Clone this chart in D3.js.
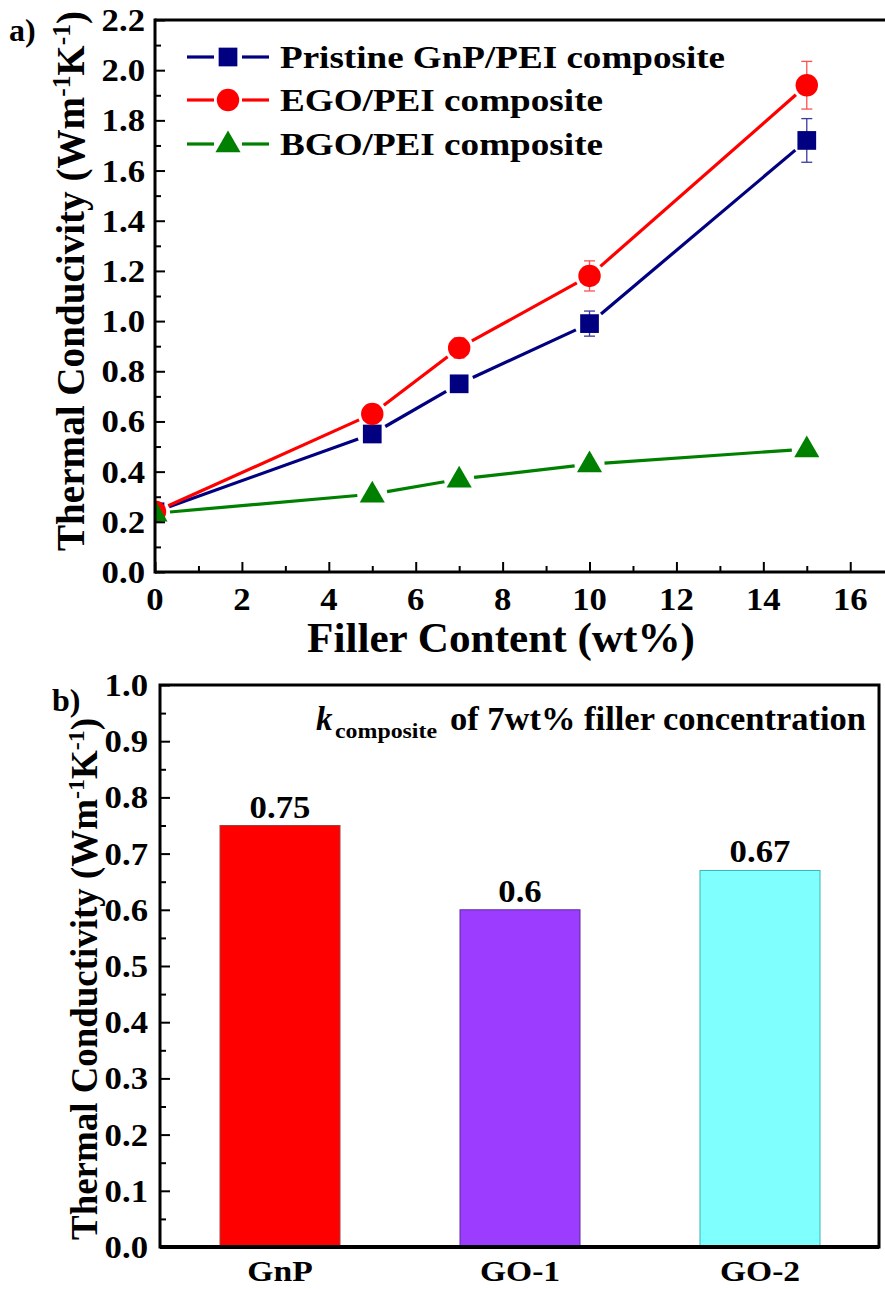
<!DOCTYPE html>
<html>
<head>
<meta charset="utf-8">
<script src="https://cdn.jsdelivr.net/npm/d3@7"></script>
<style>
  html, body { margin: 0; padding: 0; background: #fff; }
  svg { display: block; }
  text { font-family: "Liberation Serif", "Times New Roman", serif; font-weight: bold; fill: #000; }
</style>
</head>
<body>
<svg id="fig" width="885" height="1289"></svg>
<script>
// ---- Panel a: thermal conductivity vs filler content ----
const fillerContent = [0, 5, 7, 10, 15];
const gnpValues = [0.24, 0.55, 0.75, 0.99, 1.72];
const gnpErrors = [0.01, 0.015, 0.025, 0.05, 0.087];
const egoValues = [0.24, 0.63, 0.893, 1.18, 1.94];
const egoErrors = [0.01, 0.02, 0.04, 0.06, 0.095];
const bgoValues = [0.234, 0.31, 0.37, 0.43, 0.49];
const bgoErrors = [0, 0, 0, 0, 0];
const seriesNames = ["Pristine GnP/PEI composite", "EGO/PEI composite", "BGO/PEI composite"];
const xTicksA = [0, 2, 4, 6, 8, 10, 12, 14, 16];
const yTicksA = [0.0, 0.2, 0.4, 0.6, 0.8, 1.0, 1.2, 1.4, 1.6, 1.8, 2.0, 2.2];

// ---- Panel b: conductivity at 7 wt% filler ----
const fillers = ["GnP", "GO-1", "GO-2"];
const fillerK = [0.75, 0.6, 0.67];
const fillerLabels = ["0.75", "0.6", "0.67"];
const yTicksB = [0.0, 0.1, 0.2, 0.3, 0.4, 0.5, 0.6, 0.7, 0.8, 0.9, 1.0];

const svg = d3.select("#fig");
const WIDE = 1.12; // horizontal widening of the bold serif labels

// text placed at (x, y), widened horizontally around its anchor
function wideText(parent, x, y, str, size, anchor) {
  return parent.append("text")
    .attr("transform", `translate(${x},${y}) scale(${WIDE},1)`)
    .attr("text-anchor", anchor).attr("font-size", size).text(str);
}

// ================= Panel a =================
const A = { left: 155, right: 885, top: 20, bottom: 572 };
const xA = d3.scaleLinear().domain([0, 16.8]).range([A.left, A.right]);
const yA = d3.scaleLinear().domain([0, 2.2]).range([A.bottom, A.top]);

const defs = svg.append("defs");
defs.append("clipPath").attr("id", "clipA")
  .append("rect").attr("x", A.left).attr("y", 0)
  .attr("width", A.right - A.left).attr("height", A.bottom);

const series = [
  { name: seriesNames[0], vals: gnpValues, errs: gnpErrors, color: "#000080", errColor: "#3a3aa0", shape: "square", r: 12 },
  { name: seriesNames[1], vals: egoValues, errs: egoErrors, color: "#ff0000", errColor: "#ff5050", shape: "circle", r: 11.5 },
  { name: seriesNames[2], vals: bgoValues, errs: bgoErrors, color: "#008000", errColor: "#008000", shape: "triangle", r: 12 }
];

function markerPath(shape, r) {
  if (shape === "square") return d3.symbol(d3.symbolSquare, (2 * r * 0.78) ** 2)();
  if (shape === "circle") return d3.symbol(d3.symbolCircle, Math.PI * r * r * 0.95)();
  return d3.symbol(d3.symbolTriangle, r * r * 1.9)();
}

const plotA = svg.append("g").attr("clip-path", "url(#clipA)");

// connecting lines with small gaps around the markers
series.forEach(s => {
  const pts = fillerContent.map((x, i) => [xA(x), yA(s.vals[i])]);
  const gap = s.r + 3;
  for (let i = 0; i < pts.length - 1; i++) {
    const [x1, y1] = pts[i], [x2, y2] = pts[i + 1];
    const len = Math.hypot(x2 - x1, y2 - y1);
    const ux = (x2 - x1) / len, uy = (y2 - y1) / len;
    plotA.append("line")
      .attr("x1", x1 + ux * gap).attr("y1", y1 + uy * gap)
      .attr("x2", x2 - ux * gap).attr("y2", y2 - uy * gap)
      .attr("stroke", s.color).attr("stroke-width", 3.2);
  }
});

// error bars
series.forEach(s => {
  fillerContent.forEach((x, i) => {
    const e = s.errs[i];
    if (!e) return;
    const cx = xA(x), yt = yA(s.vals[i] + e), yb = yA(s.vals[i] - e);
    const g = plotA.append("g").attr("stroke", s.errColor).attr("stroke-width", 1.3);
    g.append("line").attr("x1", cx).attr("x2", cx).attr("y1", yt).attr("y2", yb);
    g.append("line").attr("x1", cx - 5.5).attr("x2", cx + 5.5).attr("y1", yt).attr("y2", yt);
    g.append("line").attr("x1", cx - 5.5).attr("x2", cx + 5.5).attr("y1", yb).attr("y2", yb);
  });
});

// markers
series.forEach(s => {
  plotA.selectAll(null).data(fillerContent).enter().append("path")
    .attr("d", markerPath(s.shape, s.r))
    .attr("transform", (d, i) => `translate(${xA(d)},${yA(s.vals[i]) + (s.shape === "triangle" ? 1 : 0)})`)
    .attr("fill", s.color);
});

// axes (inward ticks)
const axA = svg.append("g");
const xAxisA = d3.axisBottom(xA).tickValues(d3.range(0, 17, 1)).tickSize(-10).tickFormat("");
const gxA = axA.append("g").attr("transform", `translate(0,${A.bottom})`).call(xAxisA);
gxA.selectAll(".tick line").attr("y2", d => d % 2 === 0 ? -10 : -6).attr("stroke-width", 2);
gxA.select(".domain").remove();
xTicksA.forEach(d => wideText(axA, xA(d), A.bottom + 38, d, 31, "middle"));

const yAxisA = d3.axisLeft(yA).tickValues(d3.range(0, 2.21, 0.1)).tickSize(-10).tickFormat("");
const gyA = axA.append("g").attr("transform", `translate(${A.left},0)`).call(yAxisA);
gyA.selectAll(".tick line").attr("x2", (d, i) => i % 2 === 0 ? 10 : 6).attr("stroke-width", 2);
gyA.select(".domain").remove();
yTicksA.forEach(d => wideText(axA, A.left - 10, yA(d) + 11, d.toFixed(1), 31, "end"));

axA.append("line").attr("x1", A.left).attr("x2", A.right).attr("y1", A.bottom).attr("y2", A.bottom)
  .attr("stroke", "#000").attr("stroke-width", 3);
axA.append("line").attr("x1", A.left).attr("x2", A.right).attr("y1", A.top).attr("y2", A.top)
  .attr("stroke", "#000").attr("stroke-width", 3);
axA.append("line").attr("x1", A.left).attr("x2", A.left).attr("y1", A.top - 1.5).attr("y2", A.bottom + 1.5)
  .attr("stroke", "#000").attr("stroke-width", 3);

// axis titles
svg.append("text").attr("x", 501).attr("y", 652).attr("text-anchor", "middle")
  .attr("font-size", 42).attr("textLength", 388).attr("lengthAdjust", "spacingAndGlyphs")
  .text("Filler Content (wt%)");

function yTitle(x, yc, size, len, label) {
  const t = svg.append("text")
    .attr("transform", `translate(${x},${yc}) rotate(-90) scale(1,${WIDE})`)
    .attr("text-anchor", "middle").attr("font-size", size)
    .attr("textLength", len).attr("lengthAdjust", "spacingAndGlyphs");
  t.append("tspan").text(label + " (Wm");
  t.append("tspan").attr("baseline-shift", "super").attr("font-size", size * 0.65).text("-1");
  t.append("tspan").text("K");
  t.append("tspan").attr("baseline-shift", "super").attr("font-size", size * 0.65).text("-1");
  t.append("tspan").text(")");
}
yTitle(84, 281, 35, 540, "Thermal Conducivity");

svg.append("text").attr("x", 9).attr("y", 41).attr("font-size", 32).text("a)");

// legend
const legend = svg.append("g");
series.forEach((s, i) => {
  const cy = [57, 100, 144][i];
  const g = legend.append("g");
  g.append("line").attr("x1", 187).attr("x2", 214).attr("y1", cy).attr("y2", cy)
    .attr("stroke", s.color).attr("stroke-width", 3.2);
  g.append("line").attr("x1", 242).attr("x2", 269).attr("y1", cy).attr("y2", cy)
    .attr("stroke", s.color).attr("stroke-width", 3.2);
  g.append("path").attr("d", markerPath(s.shape, s.r))
    .attr("transform", `translate(228,${cy + (s.shape === "triangle" ? 1 : 0)})`).attr("fill", s.color);
  g.append("text").attr("x", 280).attr("y", cy + 11).attr("font-size", 32)
    .attr("textLength", i === 0 ? 445 : 323).attr("lengthAdjust", "spacingAndGlyphs")
    .text(s.name);
});

// ================= Panel b =================
const B = { left: 160, right: 879, top: 685, bottom: 1247 };
const xB = d3.scaleBand().domain(fillers).range([B.left, 880]).paddingInner(0.5).paddingOuter(0.25);
const yB = d3.scaleLinear().domain([0, 1]).range([B.bottom, B.top]);
const barFill = ["#ff0000", "#9b3cff", "#80ffff"];
const barEdge = ["#a04040", "#5a2aa0", "#3cb4b4"];

svg.selectAll(null).data(fillers).enter().append("rect")
  .attr("x", d => xB(d)).attr("width", xB.bandwidth())
  .attr("y", (d, i) => yB(fillerK[i])).attr("height", (d, i) => yB(0) - yB(fillerK[i]))
  .attr("fill", (d, i) => barFill[i]).attr("stroke", (d, i) => barEdge[i]).attr("stroke-width", 1);

fillers.forEach((d, i) =>
  wideText(svg, xB(d) + xB.bandwidth() / 2, yB(fillerK[i]) - 8, fillerLabels[i], 31, "middle"));

const axB = svg.append("g");
const yAxisB = d3.axisLeft(yB).tickValues(d3.range(0, 1.001, 0.05)).tickSize(-10).tickFormat("");
const gyB = axB.append("g").attr("transform", `translate(${B.left},0)`).call(yAxisB);
gyB.selectAll(".tick line").attr("x2", (d, i) => i % 2 === 0 ? 10 : 6).attr("stroke-width", 2);
gyB.select(".domain").remove();
yTicksB.forEach(d => wideText(axB, B.left - 12, yB(d) + 11, d.toFixed(1), 31, "end"));

axB.append("rect").attr("x", B.left).attr("y", B.top)
  .attr("width", B.right - B.left).attr("height", B.bottom - B.top)
  .attr("fill", "none").attr("stroke", "#000").attr("stroke-width", 3);
axB.append("line").attr("x1", B.left).attr("x2", B.right).attr("y1", B.bottom).attr("y2", B.bottom)
  .attr("stroke", "#000").attr("stroke-width", 4);

fillers.forEach(d => wideText(axB, xB(d) + xB.bandwidth() / 2, 1281, d, 30, "middle"));

yTitle(97, 979, 33, 522, "Thermal Conductivity");

svg.append("text").attr("x", 52).attr("y", 711).attr("font-size", 32).text("b)");

// annotation: k_composite of 7wt% filler concentration
const ann = svg.append("g");
ann.append("text").attr("x", 316).attr("y", 730).attr("font-size", 33)
  .attr("font-style", "italic").text("k");
ann.append("text").attr("x", 335).attr("y", 738).attr("font-size", 22)
  .attr("textLength", 102).attr("lengthAdjust", "spacingAndGlyphs").text("composite");
ann.append("text").attr("x", 450).attr("y", 730).attr("font-size", 33)
  .attr("textLength", 416).attr("lengthAdjust", "spacingAndGlyphs").text("of 7wt% filler concentration");
</script>
</body>
</html>
